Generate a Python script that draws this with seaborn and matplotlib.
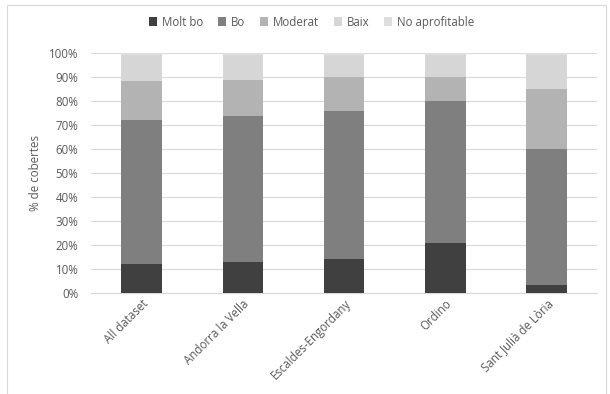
import numpy as np
import pandas as pd
import matplotlib
matplotlib.use("Agg")
import matplotlib.pyplot as plt
from matplotlib.patches import Patch, Rectangle
import seaborn as sns

# Land-cover suitability share per parish (%)
categories = ["All dataset", "Andorra la Vella", "Escaldes-Engordany", "Ordino", "Sant Julià de Lòria"]
molt_bo = [12.0, 13.0, 14.0, 21.0, 3.2]
bo = [60.1, 60.8, 61.9, 59.1, 57.0]
moderat = [16.3, 15.0, 13.9, 9.7, 24.8]
baix = [10.6, 10.2, 9.2, 9.2, 14.0]
no_aprofitable = [1.0, 1.0, 1.0, 1.0, 1.0]

series_names = ["Molt bo", "Bo", "Moderat", "Baix", "No aprofitable"]
series_values = [molt_bo, bo, moderat, baix, no_aprofitable]
colors = ["#404040", "#7f7f7f", "#b3b3b3", "#d6d6d6", "#dedede"]

sns.set_theme(style="white")
plt.rcParams["font.family"] = ["Open Sans", "DejaVu Sans"]
text_color = "#595959"
fs = 8.3

# Long table with cumulative tops for stacking
rows = []
cum = np.zeros(len(categories))
for name, vals in zip(series_names, series_values):
    cum = cum + np.array(vals)
    for cat, top in zip(categories, cum):
        rows.append({"category": cat, "series": name, "top": top / 100.0})
df = pd.DataFrame(rows)

fig = plt.figure(figsize=(6.10, 3.94), dpi=100)
ax = fig.add_axes([0.149, 0.2563, 0.830, 0.6092])

# Draw from the tallest cumulative layer down so each lower segment sits on top
for name, color in reversed(list(zip(series_names, colors))):
    sub = df[df["series"] == name]
    sns.barplot(data=sub, x="category", y="top", order=categories, color=color,
                width=0.4, saturation=1, ax=ax, zorder=3, linewidth=0)

ax.set_ylim(0, 1.0)
ax.set_xlim(-0.5, len(categories) - 0.5)
ax.set_yticks(np.arange(0, 1.01, 0.1))
ax.set_yticklabels([f"{int(round(v*100))}%" for v in np.arange(0, 1.01, 0.1)],
                   fontsize=fs, color=text_color)
ax.yaxis.grid(True, color="#d9d9d9", linewidth=0.8, zorder=0)
ax.set_axisbelow(True)
ax.tick_params(axis="y", length=0, pad=9)
ax.tick_params(axis="x", length=0, pad=3)
ax.set_xticks(range(len(categories)))
ax.set_xticklabels(categories, rotation=45, ha="right", rotation_mode="anchor",
                   fontsize=fs, color=text_color)
ax.set_xlabel("")
ax.set_ylabel("% de cobertes", fontsize=fs, color=text_color, labelpad=5)
for side in ["top", "right", "left"]:
    ax.spines[side].set_visible(False)
ax.spines["bottom"].set_color("#d9d9d9")
ax.spines["bottom"].set_linewidth(0.8)

handles = [Patch(facecolor=c, edgecolor="none", label=n) for n, c in zip(series_names, colors)]
fig.legend(handles=handles, loc="center", bbox_to_anchor=(0.511, 0.944), ncol=5,
           frameon=False, fontsize=fs, handlelength=0.7, handleheight=0.7,
           handletextpad=0.4, columnspacing=1.3, labelcolor=text_color)

# Chart frame
fig.patches.append(Rectangle((7 / 610, -0.05), 599 / 610, 1 - 5 / 394 + 0.05,
                             transform=fig.transFigure, fill=False,
                             edgecolor="#d9d9d9", linewidth=0.8))

fig.savefig("out.png", dpi=100)
